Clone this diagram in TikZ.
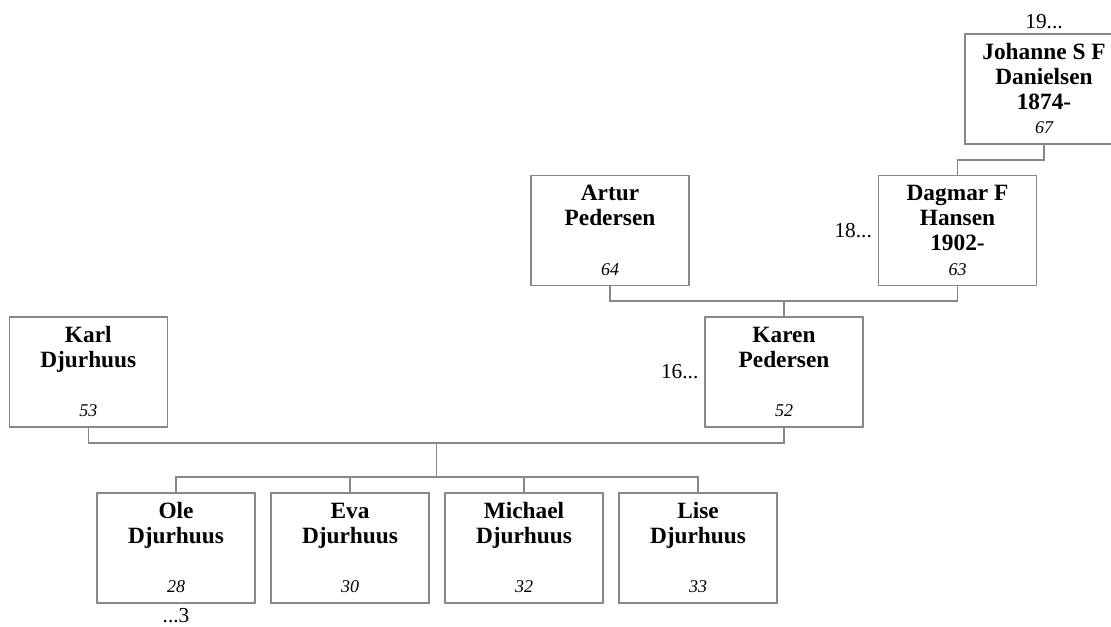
\documentclass[tikz,border=0pt]{standalone}
\usepackage{fontspec}
\setmainfont{Liberation Serif}
\usetikzlibrary{positioning,calc}

\definecolor{boxgray}{RGB}{136,136,136}

\newcommand{\personbox}[2]{%
  \parbox[c][82.5pt][t]{118.5pt}{\centering
    \fontsize{17.5}{18.75}\selectfont\bfseries\rule{0pt}{18.75pt}#1\par
    \vfill
    {\fontsize{13.5}{15}\selectfont\mdseries\itshape #2\par}
    \vspace*{7.5pt}}}

\begin{document}
\begin{tikzpicture}[
    x=0.75pt, y=-0.75pt,
    personnode/.style={rectangle, draw=boxgray, line width=0.8pt, fill=white, inner sep=0pt, outer sep=0pt},
    link/.style={draw=boxgray, line width=0.8pt},
    sidenote/.style={inner sep=0pt, outer sep=0pt, font=\fontsize{16}{18}\selectfont}
    ]
        \useasboundingbox (0,0) rectangle (1111,626);

        %Nodes
        \node[personnode]
            (johanne)   at (1044,89)     {\personbox{Johanne S F\\Danielsen\\1874-}{67}};
        \node[personnode]
            (dagmar)    at (957.5,230.7) {\personbox{Dagmar F\\Hansen\\1902-}{63}};
        \node[personnode]
            (artur)     at (610,230.7)   {\personbox{Artur\\Pedersen}{64}};
        \node[personnode]
            (karen)     at (784,372)     {\personbox{Karen\\Pedersen}{52}};
        \node[personnode]
            (karl)      at (88.3,372)    {\personbox{Karl\\Djurhuus}{53}};
        \node[personnode]
            (ole)       at (176,548)     {\personbox{Ole\\Djurhuus}{28}};
        \node[personnode]
            (eva)       [right=12pt of ole]     {\personbox{Eva\\Djurhuus}{30}};
        \node[personnode]
            (michael)   [right=12pt of eva]     {\personbox{Michael\\Djurhuus}{32}};
        \node[personnode]
            (lise)      [right=12pt of michael] {\personbox{Lise\\Djurhuus}{33}};

        %Side notes
        \node[sidenote] (johanneup)  [above=3.75pt of johanne] {19...};
        \node[sidenote] (dagmarleft) [left=5pt of dagmar]      {18...};
        \node[sidenote] (karenleft)  [left=5pt of karen]       {16...};
        \node[sidenote] (oledown)    [below=4pt of ole]        {...3};

        %Lines
        \draw[link] (johanne.south) -- ++(0,16) -| (dagmar.north);

        \coordinate (karenup) at ($(karen.north)+(0,-16)$);
        \draw[link] (artur.south) |- (karenup) -| (dagmar.south);
        \draw[link] (karenup) -- (karen.north);

        \coordinate (kidsjoin) at ($(karl.south)!0.5!(karen.south)+(0,16)$);
        \coordinate (kidsbar)  at ($(ole.north)+(0,-16)$);
        \draw[link] (karl.south) |- (kidsjoin) -| (karen.south);
        \draw[link] (kidsjoin) -- (kidsjoin |- kidsbar);
        \draw[link] (ole.north) -- (kidsbar) -| (lise.north);
        \draw[link] (eva.north) -- (eva.north |- kidsbar);
        \draw[link] (michael.north) -- (michael.north |- kidsbar);
    \end{tikzpicture}
\end{document}
